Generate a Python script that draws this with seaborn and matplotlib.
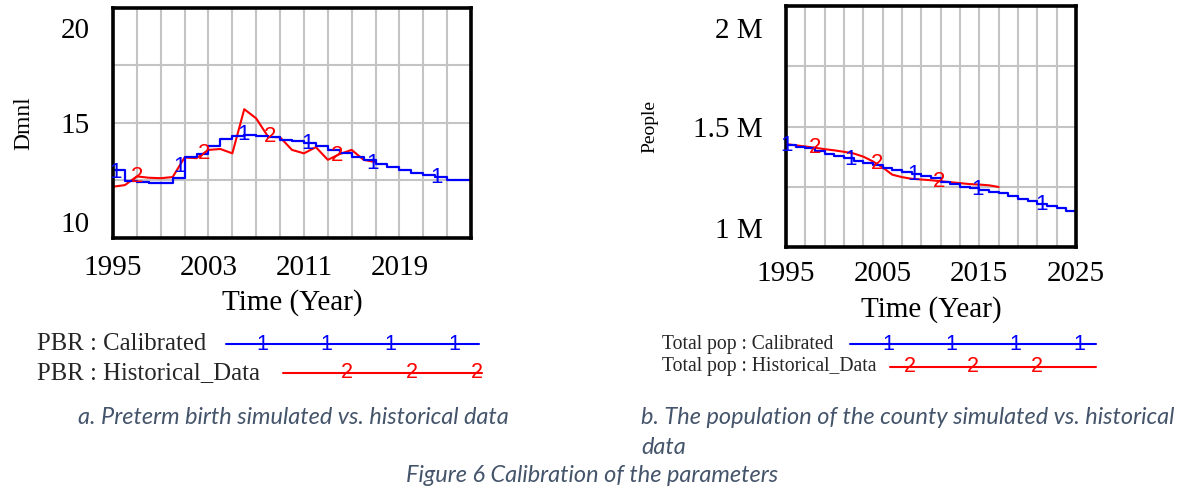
import matplotlib
matplotlib.use("Agg")
import matplotlib.pyplot as plt
import matplotlib.transforms as mtransforms
from matplotlib.lines import Line2D
import seaborn as sns
import numpy as np
import pandas as pd

# ---- data ----
sim_years = list(range(1995, 2026))
hist_years = list(range(1995, 2018))

pbr_calibrated = [12.95, 12.47, 12.45, 12.40, 12.38, 12.6, 13.5, 13.65, 13.98, 14.3,
                  14.45, 14.48, 14.45, 14.38, 14.28, 14.23, 14.14, 14.0, 13.83, 13.68,
                  13.53, 13.37, 13.2, 13.08, 12.95, 12.84, 12.74, 12.64, 12.53, 12.5,
                  12.49]
pbr_historical = [12.23, 12.3, 12.68, 12.62, 12.6, 12.65, 13.5, 13.47, 13.83, 13.87,
                  13.68, 15.6, 15.2, 14.4, 14.38, 13.83, 13.68, 13.95, 13.4, 13.65,
                  13.83, 13.4, 13.3]

pop_calibrated = [1423000, 1415000, 1410000, 1398000, 1387000, 1378000, 1368000, 1358000,
                  1348000, 1339000, 1329000, 1319000, 1311000, 1303000, 1293000, 1285000,
                  1270000, 1260000, 1250000, 1243000, 1237000, 1229000, 1222000, 1211000,
                  1201000, 1190000, 1180000, 1170000, 1160000, 1150000, 1141000]
pop_historical = [1427000, 1422000, 1417000, 1412000, 1406000, 1401000, 1395000, 1388000,
                  1375000, 1355000, 1330000, 1300000, 1290000, 1283000, 1280000, 1277000,
                  1273000, 1269000, 1265000, 1261000, 1259000, 1256000, 1249000]

left_xticklabels = ["1995", "2003", "2011", "2019"]
right_xticklabels = ["1995", "2005", "2015", "2025"]
left_yticklabels = ["10", "", "15", "", "20"]
right_yticklabels = ["1 M", "", "1.5 M", "", "2 M"]

BLUE = "#0000FF"
RED = "#FF0000"
SERIF = "Liberation Serif"
SANS = "Liberation Sans"
CAPTION = "#44546A"

sns.set_theme(style="white")
plt.rcParams['font.family'] = [SERIF, 'DejaVu Sans']

fig = plt.figure(figsize=(11.77, 4.88), dpi=100)
W, H = 1177, 488


def px_axes(x0, y0, x1, y1):
    return fig.add_axes([x0 / W, 1 - y1 / H, (x1 - x0) / W, (y1 - y0) / H])


def shift(label, dy_pt):
    label.set_transform(label.get_transform() +
                        mtransforms.ScaledTranslation(0, dy_pt / 72, fig.dpi_scale_trans))


def number_marks(ax, xs, ys, start, step, text, color):
    """Vensim style numbered markers along a series"""
    k = start
    while k <= xs[-1]:
        ax.text(k, np.interp(k, xs, ys), text, color=color, fontsize=16,
                family=SANS, ha="center", va="center", zorder=5)
        k += step


def style_panel(ax, ylim, yticklabels, xlabels_every, xticklabels, ylabel, ylab_size,
                ylab_x, xlab_y, xpad, top_dy, bottom_dy):
    ax.set_xlim(1995, 2025)
    ax.set_ylim(*ylim)
    ax.set_xticks(np.arange(1995, 2026, 2))
    labs = []
    j = 0
    for i, t in enumerate(np.arange(1995, 2026, 2)):
        if i % xlabels_every == 0:
            labs.append(xticklabels[j])
            j += 1
        else:
            labs.append("")
    ax.set_xticklabels(labs)
    ax.set_yticks(np.linspace(ylim[0], ylim[1], 5))
    ax.set_yticklabels(yticklabels)
    ax.grid(True, color="#C4C4C4", lw=1.5)
    ax.set_axisbelow(True)
    ax.tick_params(axis="both", length=0, labelsize=21, colors="black")
    ax.tick_params(axis="x", pad=xpad)
    ax.tick_params(axis="y", pad=17)
    ylabs = ax.get_yticklabels()
    ylabs[-1].set_va("top")
    shift(ylabs[-1], top_dy)
    ylabs[0].set_va("bottom")
    shift(ylabs[0], bottom_dy)
    for s in ax.spines.values():
        s.set_visible(True)
        s.set_color("black")
        s.set_linewidth(2.6)
    ax.set_xlabel("Time (Year)", fontsize=21, color="black")
    ax.xaxis.set_label_coords(0.5, xlab_y)
    ax.set_ylabel(ylabel, fontsize=ylab_size, color="black")
    ax.yaxis.set_label_coords(ylab_x, 0.5)
    ax.yaxis.label.set_va("center")
    ax.set_facecolor("white")


# ---- panel a: preterm birth rate ----
ax1 = px_axes(113, 8, 471, 238)
sim_a = pd.DataFrame({"year": sim_years, "value": pbr_calibrated})
hist_a = pd.DataFrame({"year": hist_years, "value": pbr_historical})
sns.lineplot(data=hist_a, x="year", y="value", ax=ax1, color=RED, lw=1.5, estimator=None)
sns.lineplot(data=sim_a, x="year", y="value", ax=ax1, color=BLUE, lw=1.6, estimator=None,
             drawstyle="steps-post")
number_marks(ax1, hist_years, pbr_historical, 1997.0, 5.6, "2", RED)
number_marks(ax1, sim_years, pbr_calibrated, 1995.2, 5.38, "1", BLUE)
style_panel(ax1, (10, 20), left_yticklabels, 4, left_xticklabels, "Dmnl", 17, -0.25,
            -0.222, 12.5, -7, 0)

# ---- panel b: total population ----
ax2 = px_axes(786, 6, 1076, 247)
sim_b = pd.DataFrame({"year": sim_years, "value": pop_calibrated})
hist_b = pd.DataFrame({"year": hist_years, "value": pop_historical})
sns.lineplot(data=hist_b, x="year", y="value", ax=ax2, color=RED, lw=1.5, estimator=None)
sns.lineplot(data=sim_b, x="year", y="value", ax=ax2, color=BLUE, lw=1.6, estimator=None,
             drawstyle="steps-post")
number_marks(ax2, hist_years, pop_historical, 1998.0, 6.4, "2", RED)
number_marks(ax2, sim_years, pop_calibrated, 1995.1, 6.57, "1", BLUE)
style_panel(ax2, (1e6, 2e6), right_yticklabels, 5, right_xticklabels, "People", 14, -0.47,
            -0.205, 10, -8.5, 2)


# ---- Vensim style legends ----
def legend_row(label, size, tx, y, lx0, lx1, mark_x0, mark_step, n, text, color):
    fig.text(tx / W, 1 - y / H, label, fontsize=size, family=SERIF, ha="left", va="center")
    fig.add_artist(Line2D([lx0 / W, lx1 / W], [1 - y / H, 1 - y / H], color=color, lw=1.5,
                          transform=fig.transFigure))
    for i in range(n):
        fig.text((mark_x0 + i * mark_step) / W, 1 - y / H, text, fontsize=15.5, family=SANS,
                 color=color, ha="center", va="center")


legend_row("PBR : Calibrated", 17.8, 37, 344, 226, 479, 262, 64, 4, "1", BLUE)
legend_row("PBR : Historical_Data", 17.8, 37, 373, 283, 482, 347, 64.7, 3, "2", RED)
legend_row("Total pop : Calibrated", 14.15, 662, 344, 850, 1096, 888, 63.7, 4, "1", BLUE)
legend_row("Total pop : Historical_Data", 14.15, 662, 367, 890, 1096, 910, 63.3, 3, "2", RED)

# ---- captions ----
cap = dict(family=["Lato", "DejaVu Sans"], style="italic", color=CAPTION, fontsize=16.9)
fig.text(293.5 / W, 1 - 417 / H, "a. Preterm birth simulated vs. historical data",
         ha="center", va="center", **cap)
fig.text(641 / W, 1 - 417 / H, "b. The population of the county simulated vs. historical",
         ha="left", va="center", **cap)
fig.text(641 / W, 1 - 447 / H, "data", ha="left", va="center", **cap)
fig.text(406 / W, 1 - 475 / H, "Figure 6 Calibration of the parameters",
         ha="left", va="center", **cap)

fig.savefig("out.png", dpi=100, facecolor="white")
plt.close(fig)
